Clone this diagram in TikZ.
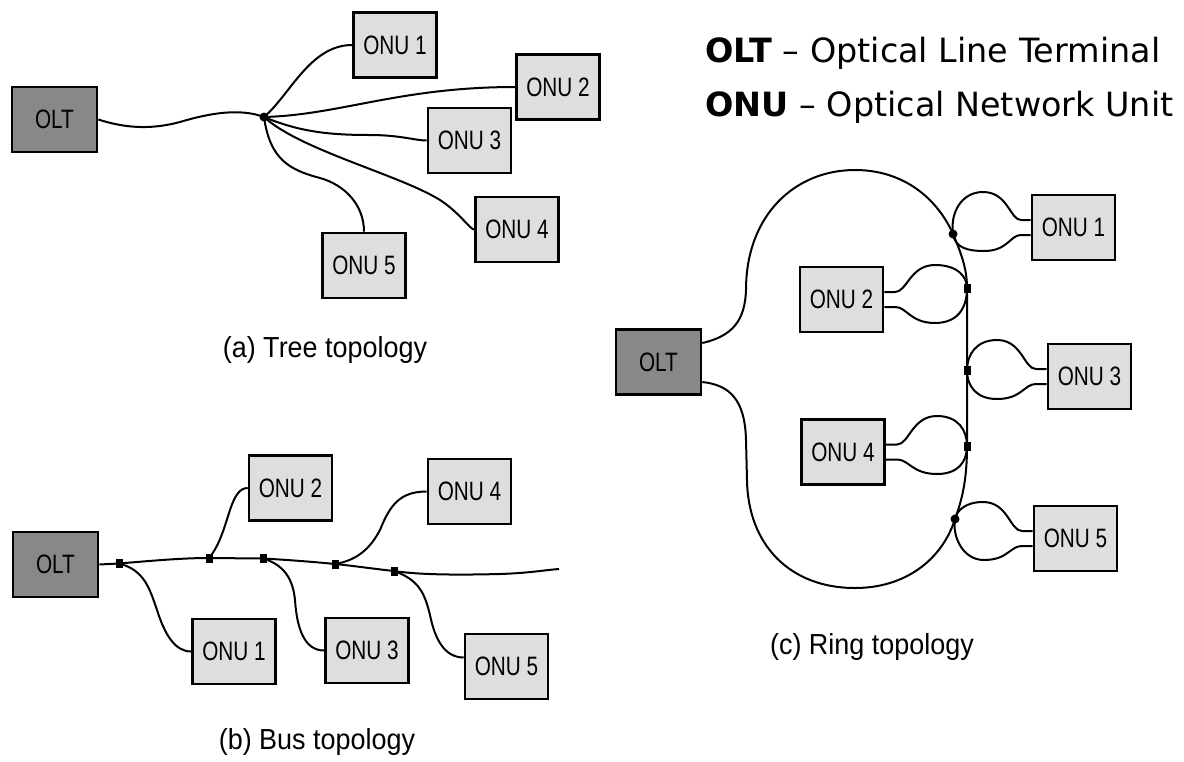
\documentclass[tikz,border=0pt]{standalone}
\usepackage{fontspec}
\setmainfont{Liberation Sans}
\newfontfamily\boxfont[FakeStretch=0.78]{Liberation Sans}
\newfontfamily\capfont[FakeStretch=0.93]{Liberation Sans}
\newfontfamily\legfont{DejaVu Sans}
\definecolor{oltfill}{RGB}{136,136,136}
\definecolor{onufill}{RGB}{222,222,222}
\begin{document}
\begin{tikzpicture}[x=0.5pt,y=-0.5pt,
  box/.style={draw, line width=1.3pt, minimum width=41.5pt, minimum height=32.5pt, inner sep=0pt, font=\boxfont\fontsize{13.3}{13}\selectfont},
  olt/.style={box, fill=oltfill, minimum width=42.5pt},
  onu/.style={box, fill=onufill},
  fiber/.style={line width=1pt},
  sqj/.style={fill=black, inner sep=0pt, minimum width=3.5pt, minimum height=4.5pt},
  dotj/.style={circle, fill=black, inner sep=0pt, minimum size=4.5pt},
  caption/.style={font=\capfont\fontsize{14.5}{16}\selectfont, inner sep=0pt},
  legend/.style={font=\legfont\fontsize{16.7}{20}\selectfont, inner sep=0pt, anchor=base west}]
\useasboundingbox (0,0) rectangle (1184,761);
\fill[white] (0,0) rectangle (1184,761);

% ---------------- (a) Tree ----------------
\node[olt] (tOLT) at (54.5,119.5) {OLT};
\node[onu] (tONU1) at (395,45) {ONU 1};
\node[onu] (tONU2) at (558,87) {ONU 2};
\node[onu] (tONU3) at (469.5,140.5) {ONU 3};
\node[onu] (tONU4) at (517,229.5) {ONU 4};
\node[onu] (tONU5) at (364,265.5) {ONU 5};
\node[dotj] (tS) at (264,117) {};
\draw[fiber] (tOLT.east) .. controls (125,128) and (150,130) .. (180,122) .. controls (210,113) and (240,108) .. (tS.center);
\draw[fiber] (tS.center) .. controls (290,95) and (310,45) .. (tONU1.west);
\draw[fiber] (tS.center) .. controls (340,115) and (400,87) .. (tONU2.west);
\draw[fiber] (tS.center) .. controls (300,132) and (330,135) .. (370,135) .. controls (400,135) and (415,140.5) .. (tONU3.west);
\draw[fiber] (tS.center) .. controls (300,150) and (400,175) .. (440,200) .. controls (460,213) and (470,229.5) .. (tONU4.west);
\draw[fiber] (tS.center) .. controls (270,160) and (290,170) .. (320,178) .. controls (345,185) and (364,205) .. (tONU5.north);
\node[caption] (capA) at (325,350) {(a) Tree topology};

% ---------------- (b) Bus ----------------
\node[olt] (bOLT) at (55.5,564.5) {OLT};
\node[onu] (bONU2) at (290.5,488) {ONU 2};
\node[onu] (bONU4) at (469.5,491.5) {ONU 4};
\node[onu] (bONU1) at (234,651.5) {ONU 1};
\node[onu] (bONU3) at (367,650.5) {ONU 3};
\node[onu] (bONU5) at (506.5,666.5) {ONU 5};
\coordinate (bEnd) at (559,569);
\node[sqj] (bJ1) at (119,563.5) {};
\node[sqj] (bJ2) at (209,558) {};
\node[sqj] (bJ3) at (263,558.5) {};
\node[sqj] (bJ4) at (335,564) {};
\node[sqj] (bJ5) at (394,571) {};
\draw[fiber] (bOLT.east) -- (bJ1.center) .. controls (160,560) and (185,558) .. (bJ2.center) -- (bJ3.center) .. controls (290,560) and (315,562) .. (bJ4.center) .. controls (355,566) and (375,569) .. (bJ5.center) .. controls (420,575) and (460,575) .. (500,574) .. controls (530,573) and (545,570) .. (bEnd);
\draw[fiber] (bJ1.center) .. controls (145,570) and (150,590) .. (157,610) .. controls (165,635) and (175,651.5) .. (bONU1.west);
\draw[fiber] (bJ2.center) .. controls (220,545) and (225,525) .. (230,510) .. controls (235,495) and (240,488) .. (bONU2.west);
\draw[fiber] (bJ3.center) .. controls (285,565) and (293,580) .. (295,600) .. controls (297,630) and (305,650.5) .. (bONU3.west);
\draw[fiber] (bJ4.center) .. controls (360,560) and (372,545) .. (380,530) .. controls (390,505) and (400,491.5) .. (bONU4.west);
\draw[fiber] (bJ5.center) .. controls (420,580) and (425,595) .. (430,615) .. controls (435,640) and (445,657.5) .. ([yshift=4.5pt]bONU5.west);
\node[caption] (capB) at (317,742) {(b) Bus topology};

% ---------------- (c) Ring ----------------
\node[olt] (rOLT) at (658.5,362) {OLT};
\node[onu] (rONU1) at (1073.5,227.5) {ONU 1};
\node[onu] (rONU2) at (841.5,299.5) {ONU 2};
\node[onu] (rONU3) at (1089.5,376.5) {ONU 3};
\node[onu] (rONU4) at (843,452) {ONU 4};
\node[onu] (rONU5) at (1075.5,538.5) {ONU 5};
\node[dotj] (rJ1) at (953,234) {};
\node[sqj] (rJ2) at (967,288) {};
\node[sqj] (rJ3) at (967,370) {};
\node[sqj] (rJ4) at (967,446) {};
\node[dotj] (rJ5) at (955,519) {};
\draw[fiber] ([yshift=9.5pt]rOLT.east) .. controls (733,336) and (745,320) .. (746,290) .. controls (746,215) and (795,170) .. (855,170) .. controls (905,170) and (938,200) .. (rJ1.center) .. controls (962,255) and (967,270) .. (rJ2.center) -- (rJ3.center) -- (rJ4.center) .. controls (967,480) and (962,500) .. (rJ5.center) .. controls (942,560) and (905,588) .. (855,588) .. controls (790,588) and (748,545) .. (747,480) -- (746,440) .. controls (745,400) and (730,385) .. ([yshift=-10pt]rOLT.east);
% loops
\draw[fiber] ([yshift=3.75pt]rONU1.west) -- (1021,220) .. controls (1010,220) and (1008,192) .. (983,192) .. controls (962,192) and (950,212) .. (rJ1.center) .. controls (955,248) and (968,251) .. (984,251) .. controls (1008,251) and (1010,235) .. (1021,235) -- ([yshift=-3.75pt]rONU1.west);
\draw[fiber] ([yshift=3.75pt]rONU2.east) -- (895,292) .. controls (907,292) and (910,265) .. (935,265) .. controls (958,265) and (967,277) .. (rJ2.center) .. controls (967,310) and (956,323) .. (935,323) .. controls (910,323) and (907,307) .. (895,307) -- ([yshift=-3.75pt]rONU2.east);
\draw[fiber] ([yshift=3.75pt]rONU3.west) -- (1036,369) .. controls (1024,369) and (1022,340) .. (997,340) .. controls (976,340) and (967,355) .. (rJ3.center) .. controls (967,388) and (978,399) .. (997,399) .. controls (1022,399) and (1024,384) .. (1036,384) -- ([yshift=-3.75pt]rONU3.west);
\draw[fiber] ([yshift=3.75pt]rONU4.east) -- (897,444.5) .. controls (909,444.5) and (912,416) .. (937,416) .. controls (958,416) and (967,430) .. (rJ4.center) .. controls (967,462) and (958,474) .. (937,474) .. controls (912,474) and (909,459.5) .. (897,459.5) -- ([yshift=-3.75pt]rONU4.east);
\draw[fiber] ([yshift=3.75pt]rONU5.west) -- (1022,531) .. controls (1010,531) and (1008,502) .. (983,502) .. controls (966,502) and (957,510) .. (rJ5.center) .. controls (952,535) and (962,560) .. (984,560) .. controls (1008,560) and (1010,546) .. (1022,546) -- ([yshift=-3.75pt]rONU5.west);
\node[caption] (capC) at (872,647) {(c) Ring topology};

% ---------------- legend ----------------
\node[legend] (leg1) at (705,62) {\textbf{OLT} – Optical Line Terminal};
\node[legend] (leg2) at (705,116) {\textbf{ONU} – Optical Network Unit};
\end{tikzpicture}
\end{document}
